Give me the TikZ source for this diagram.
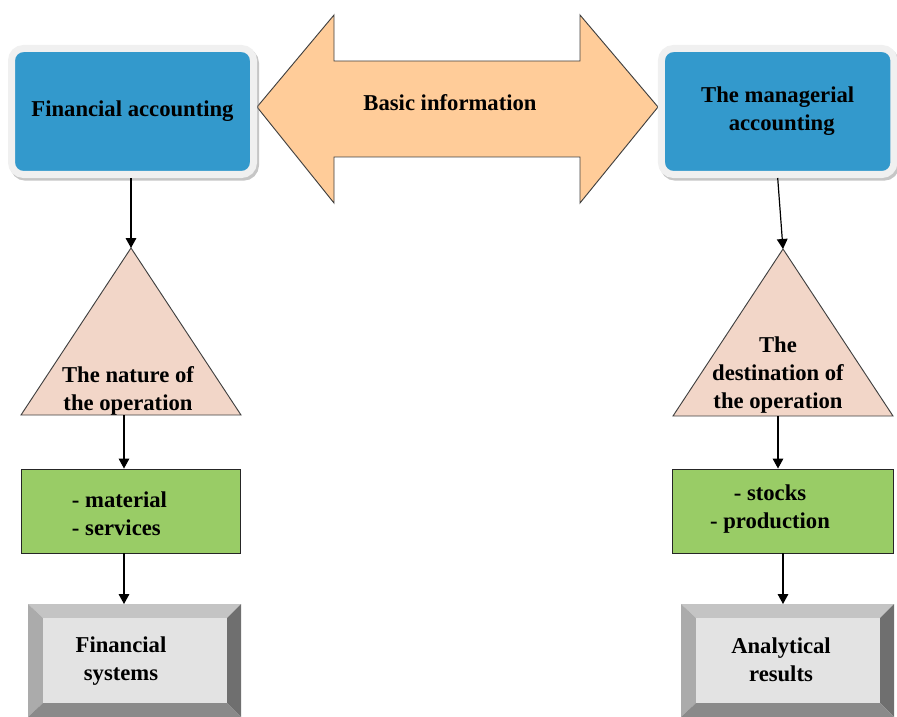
\documentclass[tikz,border=0pt]{standalone}
\usepackage{fontspec}
\setmainfont{Liberation Serif}
\usetikzlibrary{arrows.meta,shadows,calc}
\definecolor{blu}{HTML}{3399CC}
\definecolor{frame}{HTML}{F0F0F0}
\definecolor{peach}{HTML}{FFCC99}
\definecolor{trif}{HTML}{F2D6C8}
\definecolor{grn}{HTML}{99CC66}
\definecolor{bvtop}{HTML}{C4C4C4}
\definecolor{bvleft}{HTML}{ABABAB}
\definecolor{bvright}{HTML}{6F6F6F}
\definecolor{bvbot}{HTML}{8A8A8A}
\definecolor{bvface}{HTML}{E3E3E3}
\newcommand\bevelfill[1]{%
 \fill[bvtop] (#1.north west) -- (#1.north east) -- ($(#1.north east)+(-14,14)$) -- ($(#1.north west)+(15,14)$) -- cycle;
 \fill[bvleft] (#1.north west) -- ($(#1.north west)+(15,14)$) -- ($(#1.south west)+(15,-14)$) -- (#1.south west) -- cycle;
 \fill[bvright] (#1.north east) -- ($(#1.north east)+(-14,14)$) -- ($(#1.south east)+(-14,-14)$) -- (#1.south east) -- cycle;
 \fill[bvbot] (#1.south west) -- ($(#1.south west)+(15,-14)$) -- ($(#1.south east)+(-14,-14)$) -- (#1.south east) -- cycle;
 \fill[bvface] ($(#1.north west)+(15,14)$) rectangle ($(#1.south east)+(-14,-14)$);
}
\begin{document}
\begin{tikzpicture}[x=0.75pt,y=-0.75pt,
  lbl/.style={font=\bfseries\fontsize{17}{21}\selectfont, align=center, inner sep=0pt},
  bluebox/.style={rounded corners=9pt, fill=blu, draw=frame, line width=5.25pt,
     minimum height=94.5pt, inner sep=0pt,
     drop shadow={shadow xshift=1.5pt, shadow yshift=-2pt, fill=gray, draw=gray, line width=5.25pt, opacity=0.45},
     font=\bfseries\fontsize{17}{21}\selectfont, align=center},
  conn/.style={-{Triangle[length=7.5pt,width=8pt]}, line width=0.9pt, black},
  tri/.style={fill=trif, draw=black!75, line width=0.7pt},
  greenbox/.style={fill=grn, draw=black!85, line width=0.7pt, minimum height=63pt, inner sep=0pt},
  bevelbox/.style={inner sep=0pt, outer sep=0pt, minimum width=159.75pt, minimum height=84.75pt},
  bigarrow/.style={fill=peach, draw=black!75, line width=0.7pt}]
\useasboundingbox (0,0) rectangle (897,717);

% double arrow
\path[bigarrow] (257,107) -- (334,15) -- (334,61) -- (580,61) -- (580,15) -- (658,107)
  -- (580,203) -- (580,157) -- (334,157) -- (334,203) -- cycle;
\node[lbl] (basic) at (450,103) {Basic information};

% blue boxes
\node[bluebox, minimum width=181.5pt] (fa) at (132.5,111.5) {Financial accounting};
\node[bluebox, minimum width=174.4pt] (ma) at (777.7,111.5) {The managerial\\\hspace*{6pt}accounting};

% triangles
\coordinate (t1top) at (131,248);
\coordinate (t1bot) at (124,415);
\path[tri] (21,415) -- (t1top) -- (241,415) -- cycle;
\node[lbl] (t1txt) at (128,391) {The nature of\\the operation};

\coordinate (t2top) at (783,249);
\coordinate (t2bot) at (778,416);
\path[tri] (673,416) -- (t2top) -- (893,416) -- cycle;
\node[lbl] (t2txt) at (778,375.5) {The\\destination of\\the operation};

% green boxes
\node[greenbox, minimum width=164.25pt] (g1) at (130.5,511) {};
\node[lbl, align=left] (g1txt) at (119.5,514) {- material\\- services};
\node[greenbox, minimum width=165.75pt] (g2) at (782.5,511) {};
\node[lbl] (g2txt) at (770,509) {- stocks\\- production};

% bevel boxes
\node[bevelbox] (fs) at (134.5,660.5) {};
\bevelfill{fs}
\node[lbl] (fstxt) at (121,661.5) {Financial\\systems};
\node[bevelbox] (ar) at (787.5,660.5) {};
\bevelfill{ar}
\node[lbl] (artxt) at (781,660) {Analytical\\results};

% connectors
\draw[conn] (fa.south -| t1top) -- (t1top);
\draw[conn] (t1bot) -- (g1.north -| t1bot);
\draw[conn] (g1.south -| t1bot) -- (fs.north -| t1bot);
\draw[conn] (ma.south) -- (t2top);
\draw[conn] (t2bot) -- (g2.north -| t2bot);
\draw[conn] (g2.south -| t2top) -- (ar.north -| t2top);
\end{tikzpicture}
\end{document}
